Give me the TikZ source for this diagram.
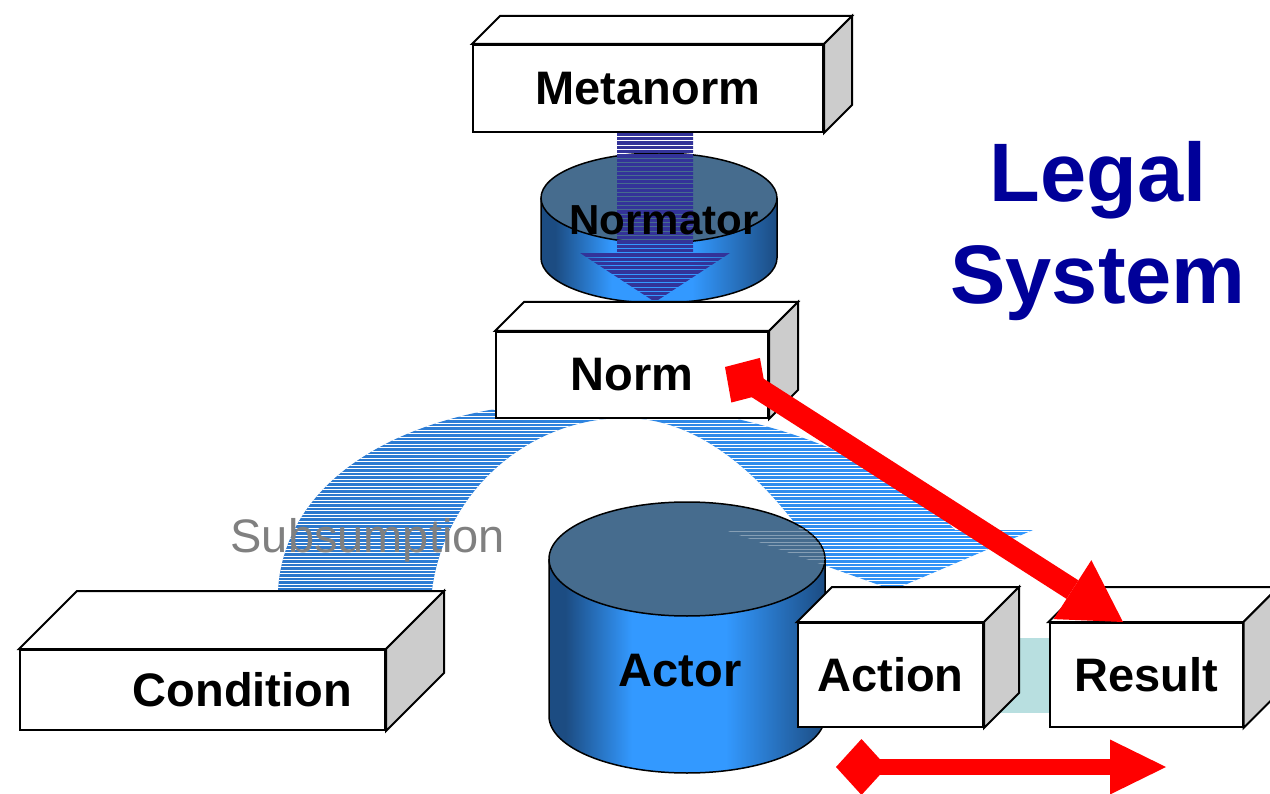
\documentclass[tikz,border=0pt]{standalone}
\usepackage{fontspec}
\setmainfont{Liberation Sans}
\usetikzlibrary{arrows.meta,backgrounds}

\definecolor{cyltop}{HTML}{466C8E}
\definecolor{cyldark}{HTML}{1C4C82}
\definecolor{cylbright}{HTML}{3399FF}
\definecolor{normblue}{HTML}{333399}
\definecolor{sub1}{HTML}{2B76CA}
\definecolor{sub2}{HTML}{3399FF}
\definecolor{gapteal}{HTML}{B8DFE0}
\definecolor{sidegray}{HTML}{CCCCCC}
\definecolor{legalblue}{HTML}{000099}

\pgfdeclarehorizontalshading{cylside}{100bp}{color(0bp)=(cyldark); color(28bp)=(cyldark); color(40bp)=(cylbright); color(57bp)=(cylbright); color(75bp)=(cyldark); color(100bp)=(cyldark)}

\newcommand{\boxfont}{\fontsize{47}{56}\selectfont\bfseries}
\newcommand{\boxsides}[2]{%
  \draw[line width=2pt, fill=white] (#1.north west) -- ++(#2,-#2) -- ([shift={(#2,-#2)}]#1.north east) -- (#1.north east) -- cycle;
  \draw[line width=2pt, fill=sidegray] (#1.north east) -- ++(#2,-#2) -- ([shift={(#2,-#2)}]#1.south east) -- (#1.south east) -- cycle;
}

\begin{document}
\begin{tikzpicture}[x=1pt, y=-1pt,
    face/.style={draw, line width=2pt, fill=white, inner sep=0pt, font=\boxfont},
    cylline/.style={draw=black, line width=1.5pt},
    joinbar/.style={draw=gapteal, line width=75pt},
    normlink/.style={draw=red, line width=22pt, arrows={Diamond[length=49pt, width=53pt, line width=0pt]-Triangle[length=60pt, width=70pt, line width=0pt]}},
    actlink/.style={draw=red, line width=16pt, arrows={Diamond[length=51pt, width=56pt, line width=0pt]-Triangle[length=56pt, width=55pt, line width=0pt]}}]
  \useasboundingbox (0,0) rectangle (1270,794);
  \clip (0,0) rectangle (1270,794);

  % metanorm
  \node[face, minimum width=350pt, minimum height=87pt] (metanorm) at (648,88.5) {Metanorm};
  \boxsides{metanorm}{28}

  % normator
  \shade[shading=cylside] (541,198) -- (541,258) arc[start angle=180, end angle=0, x radius=118, y radius=45] -- (777,198) arc[start angle=0, end angle=180, x radius=118, y radius=45] -- cycle;
  \draw[cylline] (541,198) -- (541,258) arc[start angle=180, end angle=0, x radius=118, y radius=45] -- (777,198);
  \draw[cylline, fill=cyltop] (659,198) ellipse [x radius=118, y radius=45];
  \begin{scope}
    \clip (617,133) -- (693,133) -- (693,253) -- (730,253) -- (655,302) -- (580,253) -- (617,253) -- cycle;
    \foreach \y in {134.5,138.8,...,303}
      \draw[normblue, line width=3.3pt] (575,\y) -- (735,\y);
  \end{scope}
  \node[font=\fontsize{42}{50}\selectfont\bfseries] (normator) at (664,220) {Normator};

  % subsumption
  \begin{scope}
    \clip (278,590) .. controls (285,480) and (400,410) .. (560,402)
      .. controls (730,398) and (880,450) .. (955,530)
      -- (1033,530) -- (893,590) -- (725,530) -- (800,530)
      .. controls (740,450) and (680,418) .. (625,418)
      .. controls (530,418) and (445,490) .. (432,590) -- cycle;
    \shade[left color=sub1, right color=sub2] (270,395) rectangle (1040,595);
    \foreach \y in {405.5,409,...,592}
      \draw[white, line width=0.9pt] (270,\y) -- (1040,\y);
  \end{scope}
  \node[anchor=base west, text=gray, font=\fontsize{47}{56}\selectfont] (subsumption) at (227,552) {Subsumption};

  % norm
  \node[face, minimum width=272pt, minimum height=86pt] (norm) at (632,375) {Norm};
  \boxsides{norm}{29}

  % condition
  \node[face, minimum width=365pt, minimum height=80pt, text width=299pt, align=right] (condition) at (202.5,690) {Condition};
  \boxsides{condition}{58}

  % actor
  \shade[shading=cylside] (549,559) -- (549,716) arc[start angle=180, end angle=0, x radius=138, y radius=57] -- (825,559) arc[start angle=0, end angle=180, x radius=138, y radius=57] -- cycle;
  \draw[cylline] (549,559) -- (549,716) arc[start angle=180, end angle=0, x radius=138, y radius=57] -- (825,559);
  \draw[cylline, fill=cyltop] (687,559) ellipse [x radius=138, y radius=57];
  \begin{scope}
    \clip (687,559) ellipse [x radius=138, y radius=57];
    \clip (955,530) -- (1033,530) -- (893,590) -- (725,530) -- (800,530)
      .. controls (740,450) and (680,418) .. (625,418) -- (1040,400) -- cycle;
    \foreach \y in {528,531.5,...,592}
      \draw[white, opacity=0.35, line width=0.9pt] (700,\y) -- (840,\y);
  \end{scope}
  \node[font=\boxfont] (actor) at (680,671) {Actor};

  % action and result
  \node[face, minimum width=185pt, minimum height=104pt] (action) at (890.5,675) {Action};
  \boxsides{action}{35}
  \node[face, minimum width=193pt, minimum height=104pt] (result) at (1146,675) {Result};
  \boxsides{result}{35}
  \begin{pgfonlayer}{background}
    \draw[joinbar] (action) -- (result);
  \end{pgfonlayer}

  \draw[normlink] ([shift={(-44,-8)}]norm.east) -- ([xshift=-23pt]result.north);
  \coordinate (acttail) at (836,767);
  \coordinate (reshead) at (1166,767);
  \draw[actlink] (acttail) -- (reshead);

  \node[anchor=base, text=legalblue, font=\fontsize{83}{100}\selectfont\bfseries] (legal) at (1098,202) {Legal};
  \node[anchor=base, text=legalblue, font=\fontsize{83}{100}\selectfont\bfseries] (system) at (1098,304) {System};
\end{tikzpicture}
\end{document}
